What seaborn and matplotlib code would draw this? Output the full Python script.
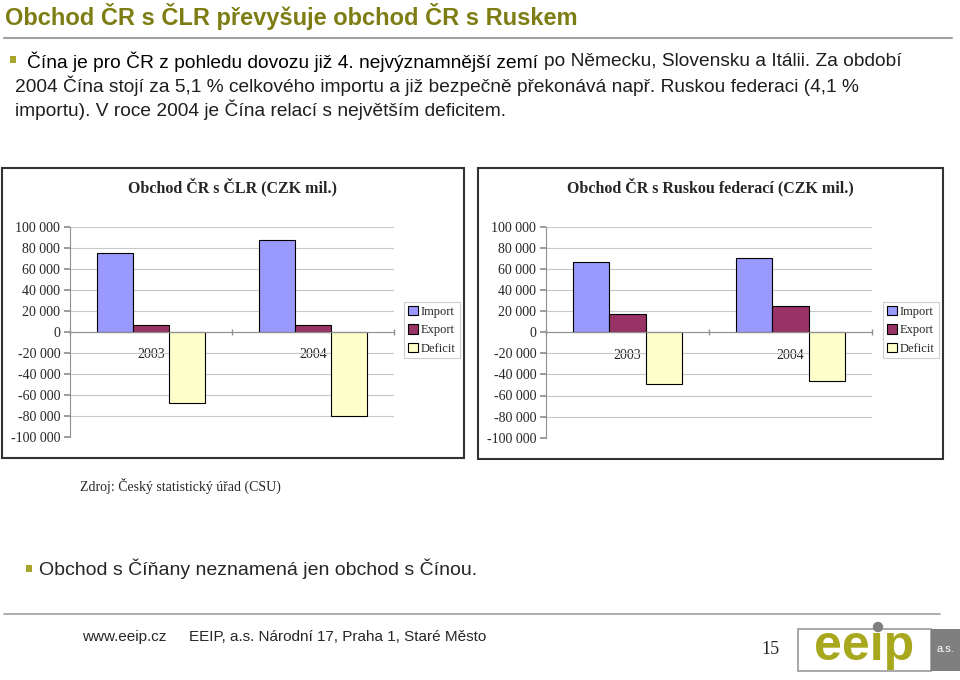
import numpy as np
import pandas as pd
import seaborn as sns
import matplotlib.pyplot as plt
from matplotlib.patches import Rectangle, Patch, Circle
from matplotlib.ticker import FuncFormatter, FixedLocator

# data (CZK mil.)
roky = ['2003', '2004']
typy = ['Import', 'Export', 'Deficit']
clr_import = [74800, 87700]
clr_export = [6600, 6600]
clr_deficit = [-68100, -80500]
rus_import = [66100, 70200]
rus_export = [16900, 24500]
rus_deficit = [-49200, -46400]

barvy = ['#9999FF', '#993366', '#FFFFCC']
olive = '#7d7d14'
olive_light = '#a6a62a'
serif = 'Liberation Serif'
sans = 'Liberation Sans'

sns.set_theme(style='white')
plt.rcParams['font.family'] = [sans, 'DejaVu Sans']

W, H = 960, 680
fig = plt.figure(figsize=(9.6, 6.8), dpi=100)

# background axes in pixel coords for the slide decoration
bg = fig.add_axes([0, 0, 1, 1], zorder=0)
bg.set_xlim(0, W)
bg.set_ylim(H, 0)
bg.axis('off')


def make_df(imp, exp, defi):
    rows = []
    for i, r in enumerate(roky):
        rows.append((r, 'Import', imp[i]))
        rows.append((r, 'Export', exp[i]))
        rows.append((r, 'Deficit', defi[i]))
    return pd.DataFrame(rows, columns=['rok', 'typ', 'hodnota'])


def px_axes(x0, y0, x1, y1):
    return fig.add_axes([x0 / W, 1 - y1 / H, (x1 - x0) / W, (y1 - y0) / H], zorder=2)


def draw_chart(df, box, area, title, leg):
    # outer chart frame
    bx0, by0, bx1, by1 = box
    bg.add_patch(Rectangle((bx0, by0), bx1 - bx0, by1 - by0, fill=False,
                           edgecolor='#333333', linewidth=1.5))
    bg.text((bx0 + bx1) / 2, 187, title, ha='center', va='center',
            fontsize=11.5, fontweight='bold', family=serif)

    ax = px_axes(*area)
    ax.patch.set_alpha(0)
    sns.barplot(data=df, x='rok', y='hodnota', hue='typ', hue_order=typy,
                palette=barvy, width=0.67, edgecolor='black', linewidth=0.8,
                saturation=1, legend=False, ax=ax, zorder=3)
    ax.set_ylim(-100000, 100000)
    ax.set_xlim(-0.5, 1.5)
    ax.set_yticks(np.arange(-100000, 100001, 20000))
    ax.yaxis.set_major_formatter(FuncFormatter(lambda v, p: f'{int(v):,}'.replace(',', ' ')))
    ax.grid(axis='y', color='#c8c8c8', linewidth=0.8, zorder=0)
    ax.set_axisbelow(True)
    for s in ['top', 'right']:
        ax.spines[s].set_visible(False)
    ax.spines['left'].set_color('#909090')
    ax.spines['left'].set_linewidth(0.8)
    ax.spines['bottom'].set_position(('data', 0))
    ax.spines['bottom'].set_color('#909090')
    ax.spines['bottom'].set_linewidth(0.8)
    ax.spines['bottom'].set_zorder(4)
    ax.tick_params(axis='y', which='major', left=True, length=4, color='#909090',
                   labelsize=10, pad=3)
    ax.tick_params(axis='x', which='major', bottom=False, labelsize=10, pad=6)
    ax.xaxis.set_minor_locator(FixedLocator([-0.5, 0.5, 1.5]))
    ax.tick_params(axis='x', which='minor', bottom=True, direction='inout',
                   length=4, color='#909090')
    for lab in ax.get_xticklabels() + ax.get_yticklabels():
        lab.set_family(serif)
    ax.set_xlabel('')
    ax.set_ylabel('')

    # legend
    lx0, ly0, lx1, ly1 = leg
    handles = [Patch(facecolor=c, edgecolor='black', linewidth=0.8) for c in barvy]
    lg = fig.legend(handles, typy, loc='upper left',
                    bbox_to_anchor=(lx0 / W, 1 - ly0 / H),
                    prop={'family': serif, 'size': 9}, frameon=True,
                    fancybox=False, borderpad=0.3, handlelength=0.8,
                    handleheight=0.8, handletextpad=0.25, labelspacing=0.5,
                    borderaxespad=0)
    lg.get_frame().set_edgecolor('#c0c0c0')
    lg.get_frame().set_linewidth(0.8)
    lg.set_zorder(5)
    return ax


draw_chart(make_df(clr_import, clr_export, clr_deficit),
           (2, 168, 464, 458), (70, 226.7, 394, 436.7),
           'Obchod ČR s ČLR (CZK mil.)', (404, 302, 460, 363))
draw_chart(make_df(rus_import, rus_export, rus_deficit),
           (478, 168, 943, 459), (546, 226.7, 872, 437.7),
           'Obchod ČR s Ruskou federací (CZK mil.)', (883, 302, 938, 364))

# slide title and separator
bg.text(5, 16, 'Obchod ČR s ČLR převyšuje obchod ČR s Ruskem', ha='left',
        va='center', fontsize=17, fontweight='bold', color=olive, family=sans)
bg.plot([4, 952], [38, 38], color='#a0a0a0', linewidth=1.5)

# body text
bg.add_patch(Rectangle((10, 56), 6, 7, color=olive_light, linewidth=0))
t1 = bg.text(27, 62, 'Čína je pro ČR z pohledu dovozu již 4. nejvýznamnější zemí',
             ha='left', va='center', fontsize=13.8, family=sans, color='black')
bg.annotate('po Německu, Slovensku a Itálii. Za období', xy=(1, 0.5),
            xycoords=t1, xytext=(4, 0), textcoords='offset points',
            ha='left', va='center', fontsize=13.8, family=sans, color='#1e1e1e')
bg.text(15, 86, '2004 Čína stojí za 5,1 % celkového importu a již bezpečně překonává '
        'např. Ruskou federaci (4,1 %', ha='left', va='center', fontsize=13.8,
        family=sans, color='#1e1e1e')
bg.text(15, 110, 'importu). V roce 2004 je Čína relací s největším deficitem.',
        ha='left', va='center', fontsize=13.8, family=sans, color='#1e1e1e')

bg.text(80, 486, 'Zdroj: Český statistický úřad (CSU)', ha='left', va='center',
        fontsize=10, family=serif)

bg.add_patch(Rectangle((26, 565), 6, 7, color=olive_light, linewidth=0))
bg.text(39, 569, 'Obchod s Číňany neznamená jen obchod s Čínou.', ha='left',
        va='center', fontsize=14, family=sans)

# footer
bg.plot([4, 940], [614, 614], color='#a0a0a0', linewidth=1.2)
bg.text(82, 637, 'www.eeip.cz', ha='left', va='center', fontsize=11, family=sans)
bg.text(189, 637, 'EEIP, a.s. Národní 17, Praha 1, Staré Město', ha='left',
        va='center', fontsize=11, family=sans)
bg.text(770, 650, '15', ha='center', va='center', fontsize=13, family=serif)

# logo
bg.add_patch(Rectangle((798, 629), 133, 42, facecolor='white', edgecolor='#9a9a9a',
                       linewidth=1.2))
bg.add_patch(Rectangle((931, 629), 29, 42, facecolor='#7f7f7f', linewidth=0))
bg.text(864, 660, 'ee\u0131p', ha='center', va='baseline', fontsize=36,
        fontweight='bold', color='#a8a81e', family=sans)
bg.add_patch(Circle((878, 627), 4.5, color='#808080', zorder=3))
bg.text(945, 649, 'a.s.', ha='center', va='center', fontsize=8, color='white',
        family=sans)

fig.savefig('out.png', dpi=100)
